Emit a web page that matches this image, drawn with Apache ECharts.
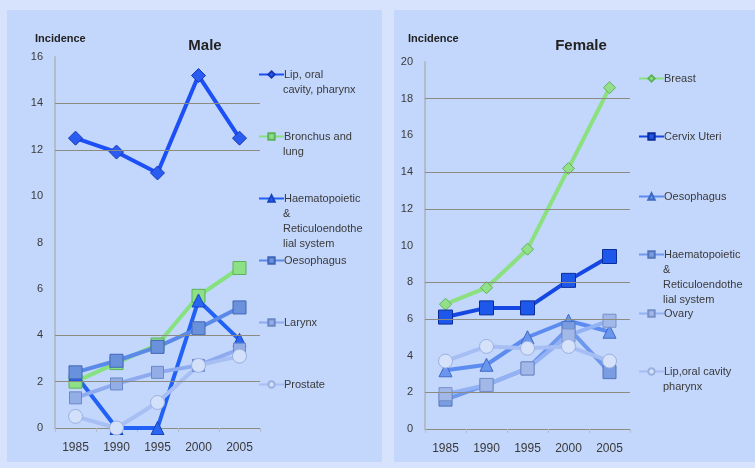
<!DOCTYPE html>
<html>
<head>
<meta charset="utf-8">
<script src="https://cdn.jsdelivr.net/npm/echarts@6/dist/echarts.min.js"></script>
<style>
  html, body { margin: 0; padding: 0; background: #d7e3fc; }
  #chart { width: 755px; height: 468px; }
</style>
</head>
<body>
<div id="chart"></div>
<script>
var years = ['1985', '1990', '1995', '2000', '2005'];

// Male
var maleLip = [12.5, 11.9, 11.0, 15.2, 12.5];
var maleLung = [2.0, 2.8, 3.6, 5.7, 6.9];
var maleHaem = [2.3, 0, 0, 5.5, 3.8];
var maleOeso = [2.4, 2.9, 3.5, 4.3, 5.2];
var maleLarynx = [1.3, 1.9, 2.4, 2.7, 3.4];
var maleProstate = [0.5, 0, 1.1, 2.7, 3.1];
var maleGrid = [2, 4, 12, 14];

// Female
var femBreast = [6.8, 7.7, 9.8, 14.2, 18.6];
var femCervix = [6.1, 6.6, 6.6, 8.1, 9.4];
var femOeso = [3.2, 3.5, 5.0, 5.9, 5.3];
var femHaem = [1.6, 2.4, 3.3, 5.5, 3.1];
var femOvary = [1.9, 2.4, 3.3, 5.1, 5.9];
var femLip = [3.7, 4.5, 4.4, 4.5, 3.7];
var femGrid = [2, 6, 8, 12, 14, 18];

var font = 'Liberation Sans';
var txt = '#3a3a3a';

// legend: [id, first line, extra lines, y of first line]
var maleLegend = [
  ['m_lip', 'Lip, oral', ['cavity, pharynx'], 76],
  ['m_lung', 'Bronchus and', ['lung'], 138],
  ['m_haem', 'Haematopoietic', ['&', 'Reticuloendothe', 'lial system'], 200],
  ['m_oeso', 'Oesophagus', [], 262],
  ['m_lar', 'Larynx', [], 324],
  ['m_pro', 'Prostate', [], 386]
];
var femLegend = [
  ['f_breast', 'Breast', [], 80],
  ['f_cervix', 'Cervix Uteri', [], 138],
  ['f_oeso', 'Oesophagus', [], 198],
  ['f_haem', 'Haematopoietic', ['&', 'Reticuloendothe', 'lial system'], 256],
  ['f_ovary', 'Ovary', [], 315],
  ['f_lip', 'Lip,oral cavity', ['pharynx'], 373]
];

function line(id, data, axis, color, symbol, size, fill, border, z) {
  return {
    id: id, name: id, type: 'line', data: data,
    xAxisIndex: axis, yAxisIndex: axis,
    symbol: symbol, symbolSize: size, z: z || 2,
    lineStyle: { color: color, width: 4 },
    itemStyle: { color: fill, borderColor: border, borderWidth: 1 },
    animation: false
  };
}

function gridMarks(vals) {
  return {
    silent: true, symbol: 'none', label: { show: false },
    lineStyle: { color: '#8c8c82', type: 'solid', width: 1 },
    data: vals.map(function (v) { return { yAxis: v }; })
  };
}

var series = [
  line('m_lip', maleLip, 0, '#1c4ff5', 'diamond', 14, '#2a5cf2', '#1638b8', 1),
  line('m_lung', maleLung, 0, '#86e27e', 'rect', 13, '#8ee086', '#5ab35a'),
  line('m_haem', maleHaem, 0, '#2161f6', 'triangle', 13, '#2a66f0', '#1844c0'),
  line('m_oeso', maleOeso, 0, '#5b89e8', 'rect', 13, '#6a92dc', '#4064b8'),
  line('m_lar', maleLarynx, 0, '#8fabf0', 'rect', 12, '#93aee6', '#6a88c8'),
  line('m_pro', maleProstate, 0, '#a8bff3', 'circle', 14, '#d3e0f9', '#9ab0e0'),
  line('f_breast', femBreast, 1, '#8be07f', 'diamond', 12, '#94e088', '#5cb35a', 1),
  line('f_cervix', femCervix, 1, '#1547e2', 'rect', 14, '#1d58ea', '#0b2d9c'),
  line('f_oeso', femOeso, 1, '#5c8cf0', 'triangle', 13, '#6a96ee', '#3f6ac4'),
  line('f_haem', femHaem, 1, '#6e98ee', 'rect', 13, '#7a9ce0', '#5274bc'),
  line('f_ovary', femOvary, 1, '#93b2f3', 'rect', 13, '#a2b8e8', '#7890c8'),
  line('f_lip', femLip, 1, '#a6bef4', 'circle', 14, '#d6e2fa', '#9ab0e0')
];
series[0].markLine = gridMarks(maleGrid);
series[6].markLine = gridMarks(femGrid);

var legends = [];
var graphics = [
  { type: 'rect', shape: { x: 7, y: 10, width: 375, height: 452 }, style: { fill: '#c3d6fb' }, z: -10 },
  { type: 'rect', shape: { x: 394, y: 10, width: 361, height: 452 }, style: { fill: '#c3d6fb' }, z: -10 }
];

function addLegend(list, x) {
  list.forEach(function (it) {
    legends.push({
      data: [it[0]], left: x, top: it[3] - 7, padding: 0,
      itemWidth: 25, itemHeight: 8, itemGap: 0, selectedMode: false,
      formatter: function () { return it[1]; },
      textStyle: { fontFamily: font, fontSize: 11, color: txt, padding: [0, 0, 0, -5] }
    });
    it[2].forEach(function (s, k) {
      graphics.push({
        type: 'text', left: x + 25, top: it[3] - 7 + 15 * (k + 1),
        style: { text: s, fontFamily: font, fontSize: 11, fill: txt }
      });
    });
  });
}
addLegend(maleLegend, 258);
addLegend(femLegend, 638);

function yAx(idx, max) {
  return {
    type: 'value', gridIndex: idx, min: 0, max: max, interval: 2,
    axisLine: { show: true, lineStyle: { color: '#b4bccb', width: 2 } },
    axisTick: { show: false },
    splitLine: { show: false },
    axisLabel: { fontFamily: font, fontSize: 11, color: txt, margin: 12 }
  };
}
function xAx(idx) {
  return {
    type: 'category', gridIndex: idx, data: years,
    axisLine: { show: true, lineStyle: { color: '#8c8c82', width: 1 } },
    axisTick: { show: true, length: 4, lineStyle: { color: '#b4bccb' } },
    axisLabel: { fontFamily: font, fontSize: 12, color: txt, margin: 14 }
  };
}

var chart = echarts.init(document.getElementById('chart'));
chart.setOption({
  backgroundColor: '#d7e3fc',
  animation: false,
  title: [
    { text: 'Male', left: 200, top: 33, textAlign: 'center',
      textStyle: { fontFamily: font, fontSize: 15, fontWeight: 'bold', color: '#222' } },
    { text: 'Female', left: 576, top: 33, textAlign: 'center',
      textStyle: { fontFamily: font, fontSize: 15, fontWeight: 'bold', color: '#222' } },
    { text: 'Incidence', left: 30, top: 28,
      textStyle: { fontFamily: font, fontSize: 11, fontWeight: 'bold', color: '#222' } },
    { text: 'Incidence', left: 403, top: 28,
      textStyle: { fontFamily: font, fontSize: 11, fontWeight: 'bold', color: '#222' } }
  ],
  grid: [
    { left: 55, top: 57, width: 205, height: 371 },
    { left: 425, top: 62, width: 205, height: 367 }
  ],
  xAxis: [xAx(0), xAx(1)],
  yAxis: [yAx(0, 16), yAx(1, 20)],
  legend: legends,
  graphic: graphics,
  series: series
});
</script>
</body>
</html>
